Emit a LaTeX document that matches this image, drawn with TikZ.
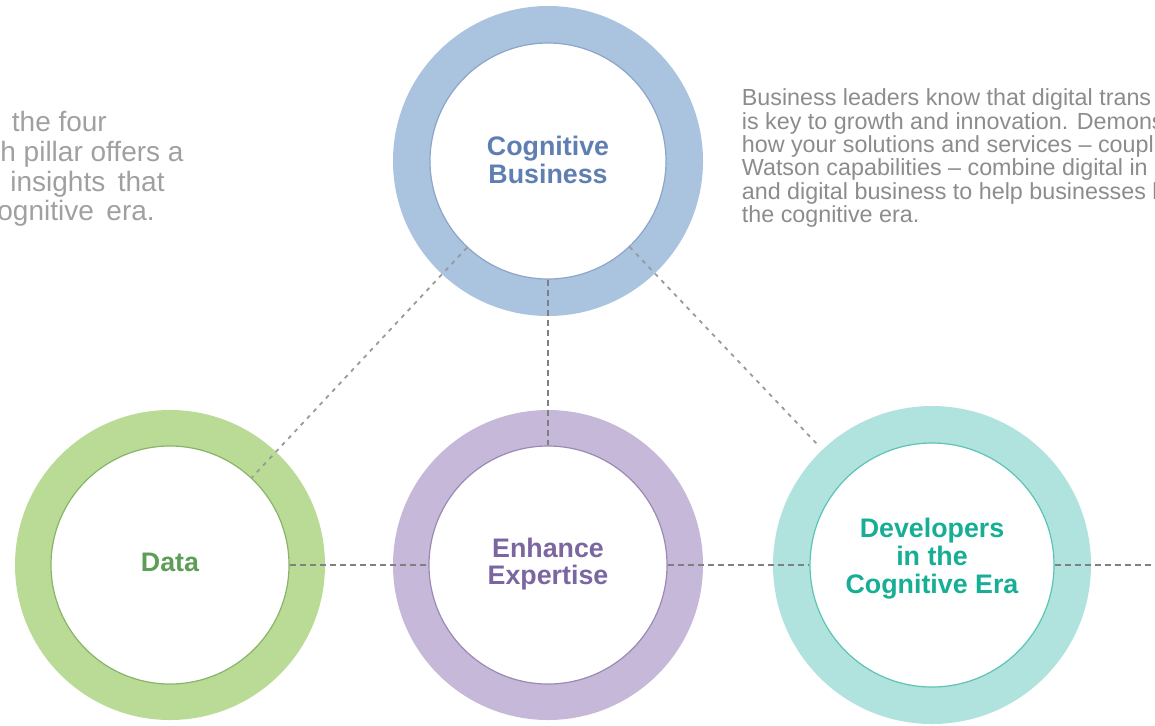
\documentclass[tikz,border=0pt]{standalone}
\usepackage{fontspec}
\setmainfont{Liberation Sans}
\definecolor{cogring}{HTML}{AAC3DF}
\definecolor{cogline}{HTML}{8CA5C8}
\definecolor{cogtext}{HTML}{5F7FB2}
\definecolor{dataring}{HTML}{BADB95}
\definecolor{dataline}{HTML}{88B46A}
\definecolor{datatext}{HTML}{5C9E55}
\definecolor{enhring}{HTML}{C5B8D8}
\definecolor{enhline}{HTML}{9A8AB4}
\definecolor{enhtext}{HTML}{7C66A2}
\definecolor{devring}{HTML}{B0E3DD}
\definecolor{devline}{HTML}{5CC4B3}
\definecolor{devtext}{HTML}{16AE95}
\definecolor{dashgray}{HTML}{808080}
\definecolor{diaggray}{HTML}{9A9A9A}
\definecolor{lefttext}{HTML}{A0A0A0}
\definecolor{righttext}{HTML}{8C8C8C}
\begin{document}
\begin{tikzpicture}[x=0.5pt,y=-0.5pt,
  ring/.style={circle, inner sep=0pt, draw=none},
  innercirc/.style={circle, inner sep=0pt, fill=white, line width=0.6pt},
  ringlbl/.style={font=\fontsize{13.4}{13.6}\selectfont\bfseries, align=center, inner sep=0pt},
  conn/.style={draw=dashgray, line width=1pt, dash pattern=on 3pt off 2pt},
  diag/.style={draw=diaggray, line width=0.9pt, dash pattern=on 2pt off 2.6pt},
  rtext/.style={text=righttext, anchor=base west, inner sep=0pt, font=\fontsize{11.65}{11.7}\selectfont},
  ltext/.style={text=lefttext, anchor=base west, inner sep=0pt, font=\fontsize{14}{14.85}\selectfont}]
\useasboundingbox (0,0) rectangle (1155,725);
\clip (0,0) rectangle (1155,725);
% rings
\node[ring, fill=cogring, minimum size=155pt] (cogO) at (548,161) {};
\node[ring, fill=dataring, minimum size=155pt] (dataO) at (170,565) {};
\node[ring, fill=enhring, minimum size=155pt] (enhO) at (548,565) {};
\node[ring, fill=devring, minimum size=159pt] (devO) at (932,565) {};
% inner circles
\node[innercirc, draw=cogline, minimum size=118pt] (cog) at (548,161) {};
\node[innercirc, draw=dataline, minimum size=119pt] (data) at (170,565) {};
\node[innercirc, draw=enhline, minimum size=119pt] (enh) at (548,565) {};
\node[innercirc, draw=devline, minimum size=122pt] (dev) at (932,565) {};
% labels
\node[ringlbl, text=cogtext] (coglbl) at (548,160) {Cognitive\\Business};
\node[ringlbl, text=datatext] (datalbl) at (170,562) {Data};
\node[ringlbl, text=enhtext] (enhlbl) at (548,564) {Enhance\\Expertise};
\node[ringlbl, text=devtext, font=\fontsize{13.4}{14}\selectfont\bfseries] (devlbl) at (932,559) {Developers\\in the\\Cognitive Era};
% connectors
\coordinate (rightend) at (1170,565);
\draw[conn] (data.east) -- (enh.west);
\draw[conn] (enh.east) -- (dev.west);
\draw[conn] (dev.east) -- (rightend);
\draw[conn] (cog.south) -- (enh.north);
\draw[diag] (cog) -- (data);
\draw[diag, shorten >=4pt] (cog) -- (devO);
% left text
\node[ltext] (lt1) at (11.5,131) {the four};
\node[ltext] (lt2) at (0,161) {h pillar offers a};
\node[ltext] (lt3) at (10,191) {insights\hspace{0.45em}that};
\node[ltext] (lt4) at (-3,220) {ognitive\hspace{0.45em}era.};
% right text
\node[rtext] (rt1) at (741.5,105.5) {Business leaders know that digital trans};
\node[rtext] (rt2) at (741.5,129) {is key to growth and innovation. Demons};
\node[rtext] (rt3) at (741.5,152.4) {how your solutions and services -- coupl};
\node[rtext] (rt4) at (741.5,175.8) {Watson capabilities -- combine digital in};
\node[rtext] (rt5) at (741.5,199.2) {and digital business to help businesses l};
\node[rtext] (rt6) at (741.5,222.6) {the cognitive era.};
\end{tikzpicture}
\end{document}
